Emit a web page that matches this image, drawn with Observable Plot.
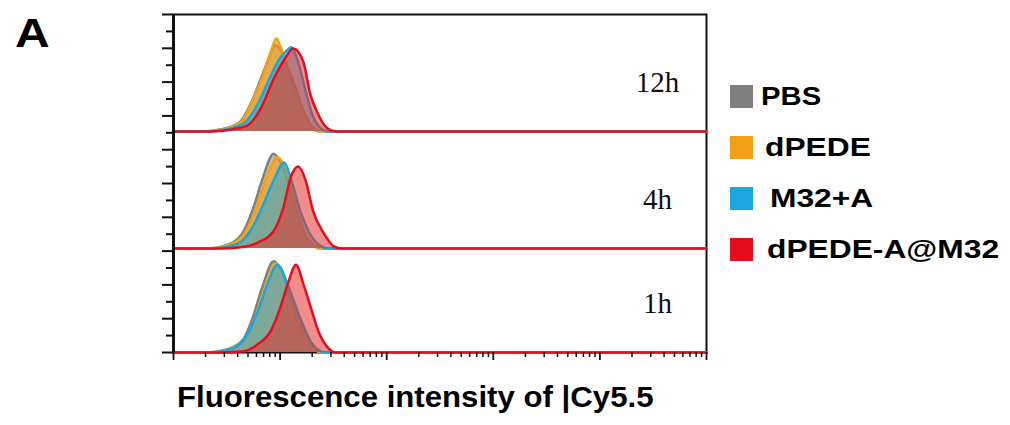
<!DOCTYPE html>
<html>
<head>
<meta charset="utf-8">
<script src="https://cdn.jsdelivr.net/npm/d3@7"></script>
<script src="https://cdn.jsdelivr.net/npm/@observablehq/plot@0.6"></script>
<style>
  html, body { margin: 0; padding: 0; background: #fff; }
  #wrap { position: relative; width: 1010px; height: 425px; overflow: hidden; font-family: "Liberation Sans", Arial, sans-serif; }
  #chart { position: absolute; left: 0; top: 0; }
  .bold { font-weight: bold; color: #000; line-height: 1; white-space: nowrap; position: absolute; transform-origin: left top; }
  .sw { position: absolute; width: 23px; height: 23px; }
</style>
</head>
<body>
<div id="wrap">
  <div id="chart"></div>
  <div class="bold" id="panelA" style="left:15px; top:13px; font-size:40px; transform:scaleX(1.2);">A</div>
  <div class="bold" id="xlab" style="left:177px; top:383px; font-size:29px; transform:scaleX(1.075);"></div>
  <div id="legend"></div>
</div>
<script>
// ---- data (log10 intensity, normalized count) ----
const seriesNames = ["PBS", "dPEDE", "M32+A", "dPEDE-A@M32"];
const seriesColors = ["#7f7f7f", "#f4a016", "#1aa6df", "#e60e1e"];
const panelLabels = ["1h", "4h", "12h"];
const xLabel = "Fluorescence intensity of |Cy5.5";

const pbs12h   = [[0,0],[0.25,0],[0.45,0.02],[0.62,0.08],[0.74,0.27],[0.84,0.5],[0.91,0.66],[0.955,0.74],[1.0,0.70],[1.07,0.55],[1.14,0.38],[1.22,0.17],[1.30,0.04],[1.38,0],[5,0]];
const dpede12h = [[0,0],[0.25,0],[0.47,0.02],[0.63,0.08],[0.75,0.28],[0.84,0.48],[0.91,0.675],[0.966,0.795],[1.0,0.735],[1.07,0.55],[1.14,0.35],[1.22,0.15],[1.30,0.03],[1.37,0],[5,0]];
const m32a12h  = [[0,0],[0.3,0],[0.5,0.02],[0.66,0.07],[0.8,0.25],[0.9,0.45],[0.98,0.6],[1.05,0.68],[1.107,0.72],[1.16,0.62],[1.23,0.38],[1.30,0.15],[1.38,0.03],[1.45,0],[5,0]];
const red12h   = [[0,0],[0.35,0],[0.56,0.02],[0.69,0.05],[0.82,0.2],[0.94,0.45],[1.03,0.6],[1.126,0.71],[1.22,0.59],[1.28,0.33],[1.35,0.16],[1.44,0.03],[1.52,0],[5,0]];

const pbs4h    = [[0,0],[0.3,0],[0.53,0.04],[0.66,0.15],[0.75,0.35],[0.83,0.58],[0.94,0.81],[1.0,0.74],[1.08,0.55],[1.16,0.32],[1.22,0.15],[1.29,0.05],[1.38,0],[5,0]];
const dpede4h  = [[0,0],[0.32,0],[0.55,0.04],[0.68,0.15],[0.78,0.36],[0.87,0.6],[0.975,0.78],[1.03,0.72],[1.1,0.52],[1.17,0.3],[1.24,0.12],[1.31,0.03],[1.38,0],[5,0]];
const m32a4h   = [[0,0],[0.35,0],[0.6,0.04],[0.72,0.15],[0.83,0.35],[0.94,0.58],[1.04,0.735],[1.10,0.6],[1.19,0.32],[1.29,0.11],[1.38,0.02],[1.45,0],[5,0]];
const red4h    = [[0,0],[0.45,0],[0.63,0.01],[0.79,0.05],[0.94,0.15],[1.03,0.35],[1.10,0.61],[1.17,0.70],[1.24,0.58],[1.31,0.32],[1.41,0.13],[1.5,0.02],[1.57,0],[5,0]];

const pbs1h    = [[0,0],[0.3,0],[0.53,0.035],[0.66,0.12],[0.74,0.29],[0.83,0.55],[0.94,0.78],[1.0,0.72],[1.08,0.52],[1.16,0.3],[1.24,0.12],[1.32,0.03],[1.4,0],[5,0]];
const dpede1h  = [[0,0],[0.32,0],[0.55,0.035],[0.68,0.13],[0.77,0.31],[0.86,0.56],[0.96,0.76],[1.02,0.70],[1.1,0.5],[1.18,0.28],[1.26,0.1],[1.33,0.02],[1.4,0],[5,0]];
const m32a1h   = [[0,0],[0.33,0],[0.56,0.035],[0.69,0.15],[0.79,0.35],[0.88,0.58],[0.975,0.75],[1.07,0.58],[1.19,0.29],[1.29,0.09],[1.38,0.01],[1.43,0],[5,0]];
const red1h    = [[0,0],[0.45,0],[0.66,0.01],[0.79,0.07],[0.91,0.18],[1.0,0.38],[1.07,0.58],[1.15,0.75],[1.22,0.58],[1.29,0.38],[1.36,0.18],[1.44,0.05],[1.52,0],[5,0]];

const panelCurves = [
  [pbs1h, dpede1h, m32a1h, red1h],
  [pbs4h, dpede4h, m32a4h, red4h],
  [pbs12h, dpede12h, m32a12h, red12h]
];
const panelOffsets = [0, 0.889, 1.889];
const yTop = 2.889;

// ---- styling ----
const fillColors = ["#7f7f7f", "#f4a016", "#1aa6df", "#e5302a"];
const fillOpacities = [0.5, 0.65, 0.5, 0.55];

// ---- build table ----
const rows = [];
panelCurves.forEach((curves, p) => {
  curves.forEach((pts, s) => {
    pts.forEach(([L, h]) => rows.push({
      panel: panelLabels[p], series: seriesNames[s], key: p + "-" + s,
      x: Math.pow(10, L), base: panelOffsets[p], top: panelOffsets[p] + h
    }));
  });
});

const xMajor = d3.range(0, 6).map(e => Math.pow(10, e));
const xMinor = d3.range(0, 5).flatMap(e => d3.range(2, 10).map(m => m * Math.pow(10, e)));
const yTicks = d3.range(21).map(i => i * yTop / 20);
const yMajor = yTicks.filter((d, i) => i % 2 === 0);
const yMinor = yTicks.filter((d, i) => i % 2 === 1);

const marks = [Plot.frame({stroke: "#111", strokeWidth: 2})];
for (let p = 0; p < 3; p++) {
  for (let s = 0; s < 4; s++) {
    const key = p + "-" + s;
    const data = rows.filter(r => r.key === key);
    marks.push(Plot.areaY(data, {x: "x", y1: "base", y2: "top", fill: fillColors[s], fillOpacity: fillOpacities[s], curve: "monotone-x"}));
    marks.push(Plot.lineY(data, {x: "x", y: "top", stroke: seriesColors[s], strokeWidth: 2.5, curve: "monotone-x"}));
  }
}
marks.push(Plot.ruleX([1], {stroke: "#111", strokeWidth: 3}));
marks.push(Plot.axisX(xMajor, {anchor: "bottom", tickSize: 8, tickFormat: () => "", label: null, stroke: "#111", strokeWidth: 1.8}));
marks.push(Plot.axisX(xMinor, {anchor: "bottom", tickSize: 5, tickFormat: () => "", label: null, stroke: "#111", strokeWidth: 1.5}));
marks.push(Plot.axisY(yMajor, {anchor: "left", tickSize: 11, tickFormat: () => "", label: null, stroke: "#111", strokeWidth: 2}));
marks.push(Plot.axisY(yMinor, {anchor: "left", tickSize: 7, tickFormat: () => "", label: null, stroke: "#111", strokeWidth: 2}));
marks.push(Plot.text(panelLabels, {
  x: () => Math.pow(10, 4.54), y: (d, i) => panelOffsets[i] + 0.42, text: d => d,
  fontFamily: "Liberation Serif, Times New Roman, serif", fontSize: 29, fill: "#111"
}));

const chart = Plot.plot({
  width: 1010, height: 425,
  marginLeft: 173, marginRight: 304, marginTop: 14, marginBottom: 73,
  x: {type: "log", domain: [1, 1e5], label: null},
  y: {domain: [0, yTop], label: null},
  style: {background: "transparent", overflow: "visible"},
  marks
});
document.getElementById("chart").appendChild(chart);

document.getElementById("xlab").textContent = xLabel;

// legend
const legend = document.getElementById("legend");
const legendTextLeft = [761, 765, 770, 767];
const legendScale = [1.17, 1.27, 1.27, 1.27];
seriesNames.forEach((name, i) => {
  const top = 85 + i * 51;
  const sw = document.createElement("div");
  sw.className = "sw";
  sw.style.left = "730px"; sw.style.top = top + "px"; sw.style.background = seriesColors[i];
  legend.appendChild(sw);
  const t = document.createElement("div");
  t.className = "bold";
  t.style.left = legendTextLeft[i] + "px";
  t.style.top = (top - 1.5) + "px";
  t.style.fontSize = "25px";
  t.style.transform = "scaleX(" + legendScale[i] + ")";
  t.textContent = name;
  legend.appendChild(t);
});
</script>
</body>
</html>
